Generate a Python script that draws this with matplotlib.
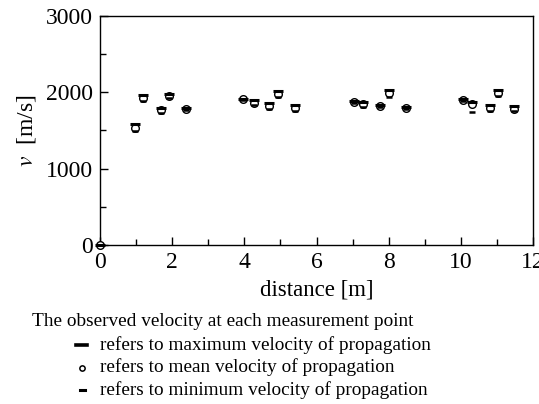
import matplotlib
matplotlib.use('Agg')
import matplotlib.pyplot as plt
from matplotlib.ticker import MultipleLocator

plt.rcParams['font.family'] = ['Liberation Serif', 'DejaVu Serif']
plt.rcParams['mathtext.fontset'] = 'stix'

# measurement points along the line
distance = [0.0, 0.97, 1.18, 1.68, 1.91, 2.37, 3.97, 4.27, 4.69, 4.94, 5.40,
            7.04, 7.30, 7.76, 8.00, 8.47, 10.07, 10.31, 10.80, 11.02, 11.48]
v_mean = [0, 1535, 1921, 1763, 1951, 1785, 1908, 1864, 1820, 1974, 1798,
          1873, 1842, 1820, 1987, 1798, 1899, 1842, 1798, 1996, 1785]
v_max = [0, 1580, 1960, 1800, 1985, 1795, 1918, 1900, 1860, 2015, 1835,
         1883, 1880, 1830, 2030, 1808, 1909, 1880, 1835, 2035, 1820]
v_min = [0, 1490, 1885, 1725, 1920, 1775, 1898, 1830, 1780, 1935, 1762,
         1863, 1805, 1810, 1945, 1788, 1889, 1741, 1762, 1955, 1750]

fig = plt.figure(figsize=(5.39, 4.04), dpi=100)
ax = fig.add_axes([0.1855, 0.394, 0.8035, 0.566])

ax.plot(distance, v_mean, linestyle='none', marker='o', color='black',
        markerfacecolor='white', markersize=5.5, markeredgewidth=1.0,
        clip_on=False, zorder=3)
ax.plot(distance, v_max, linestyle='none', marker='_', color='black',
        markersize=7, markeredgewidth=2.2, clip_on=False, zorder=4)
ax.plot(distance, v_min, linestyle='none', marker='_', color='black',
        markersize=4.5, markeredgewidth=1.8, clip_on=False, zorder=4)

ax.set_xlim(0, 12)
ax.set_ylim(0, 3000)
ax.xaxis.set_major_locator(MultipleLocator(2))
ax.xaxis.set_minor_locator(MultipleLocator(1))
ax.yaxis.set_major_locator(MultipleLocator(1000))
ax.yaxis.set_minor_locator(MultipleLocator(500))
ax.tick_params(which='both', direction='in', labelsize=17)
ax.tick_params(axis='x', pad=5)
ax.tick_params(axis='y', pad=5)
ax.tick_params(which='major', length=6, width=1)
ax.tick_params(which='minor', length=4, width=1)
for s in ax.spines.values():
    s.set_linewidth(1.0)

ax.set_xlabel('distance [m]', fontsize=16.5, labelpad=5)
ax.set_ylabel(r'$v$  [m/s]', fontsize=17, labelpad=6)

# explanation of the symbols under the plot
fig.text(32 / 539, 1 - 322 / 404, 'The observed velocity at each measurement point',
         fontsize=13.9, va='center', ha='left')
notes = ['refers to maximum velocity of propagation',
         'refers to mean velocity of propagation',
         'refers to minimum velocity of propagation']
ys = [345, 367, 390]
for txt, y in zip(notes, ys):
    fig.text(100 / 539, 1 - y / 404, txt, fontsize=13.9, va='center', ha='left')
fig.lines.append(plt.Line2D([76 / 539, 87 / 539], [1 - 345 / 404] * 2,
                            transform=fig.transFigure, color='black', lw=2.6))
fig.lines.append(plt.Line2D([82 / 539], [1 - 368 / 404], transform=fig.transFigure,
                            marker='o', markersize=3.8, markerfacecolor='white',
                            markeredgecolor='black', markeredgewidth=1.1, linestyle='none'))
fig.lines.append(plt.Line2D([79.5 / 539, 84.5 / 539], [1 - 390 / 404] * 2,
                            transform=fig.transFigure, color='black', lw=2.2))

fig.savefig('out.png', dpi=100)
